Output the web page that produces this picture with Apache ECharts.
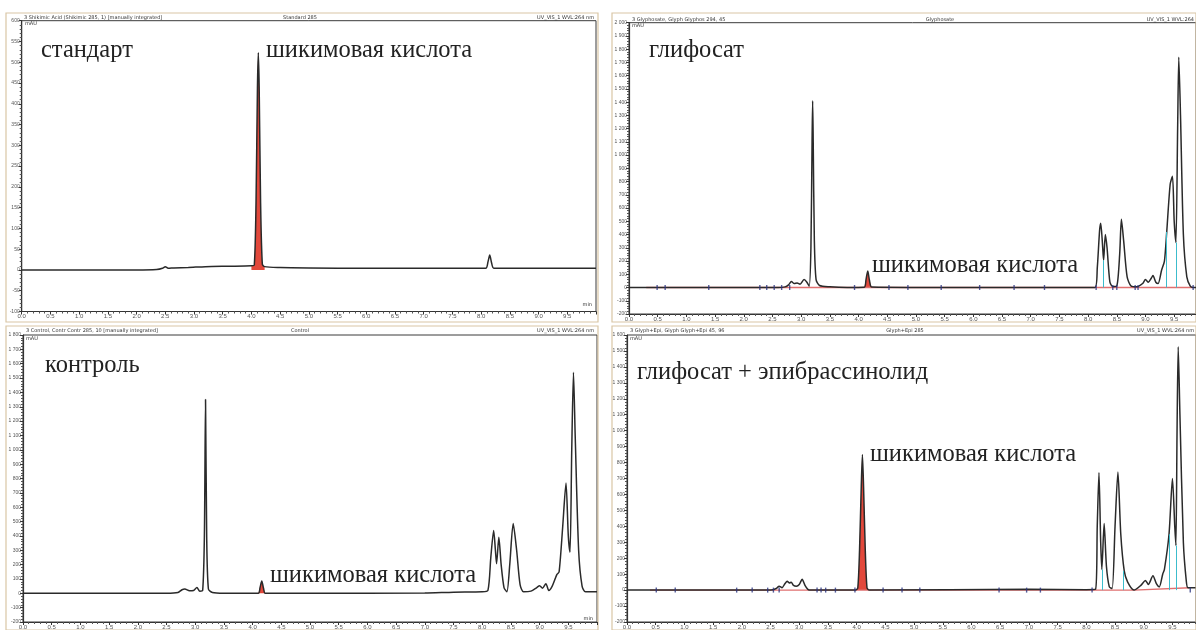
<!DOCTYPE html>
<html><head><meta charset="utf-8">
<script src="https://cdn.jsdelivr.net/npm/echarts/dist/echarts.min.js"></script>
<style>html,body{margin:0;padding:0;background:#fff}#c{width:1196px;height:630px}</style>
</head><body><div id="c"></div>
<script>
// ---------- DATA (retention time, min ; signal, mAU) ----------
const panelTitles = ['стандарт', 'глифосат', 'контроль', 'глифосат + эпибрассинолид'];
const shikLabel = 'шикимовая кислота';

const stdTrace = [[0,0],[1.0,0],[2.0,0],[2.35,1],[2.45,4],[2.5,8],[2.55,4],[2.65,5],[2.9,6],[3.2,8],[3.6,9],[4.0,10],[4.05,12],[4.08,160],[4.105,440],[4.12,523],[4.135,440],[4.16,160],[4.19,14],[4.23,8],[4.5,6],[5.0,5],[6.0,4],[7.0,4],[8.08,4],[8.12,20],[8.15,36],[8.18,18],[8.22,4],[9.0,4],[10.0,4]];

const glyTrace = [[0,0],[2.6,0],[2.72,5],[2.78,20],[2.83,45],[2.88,30],[2.93,35],[2.98,25],[3.05,60],[3.1,40],[3.14,10],[3.17,300],[3.19,1100],[3.2,1410],[3.21,1100],[3.23,350],[3.26,60],[3.32,15],[3.5,5],[3.8,0],[4.1,2],[4.13,60],[4.16,125],[4.19,55],[4.23,3],[5,0],[8.12,0],[8.16,150],[8.2,430],[8.22,485],[8.25,330],[8.27,205],[8.3,400],[8.33,300],[8.38,40],[8.43,8],[8.5,12],[8.55,250],[8.58,515],[8.62,350],[8.68,80],[8.75,10],[8.85,5],[8.95,30],[9.0,60],[9.05,40],[9.1,70],[9.13,90],[9.18,40],[9.22,30],[9.28,130],[9.33,200],[9.37,420],[9.43,780],[9.47,840],[9.5,500],[9.53,340],[9.56,1200],[9.58,1740],[9.61,1300],[9.66,400],[9.72,80],[9.78,10],[9.83,0],[9.88,0]];

const ctrlTrace = [[0,0],[2.5,0],[2.7,5],[2.77,25],[2.82,30],[2.9,18],[2.97,20],[3.03,40],[3.08,15],[3.13,20],[3.16,400],[3.18,1350],[3.2,400],[3.23,30],[3.3,5],[3.5,0],[4.1,0],[4.13,40],[4.16,85],[4.19,35],[4.22,0],[5,0],[7.0,2],[7.5,8],[8.0,10],[8.1,20],[8.15,250],[8.2,438],[8.23,300],[8.25,206],[8.29,390],[8.33,200],[8.38,40],[8.43,10],[8.48,200],[8.54,486],[8.6,300],[8.66,60],[8.72,10],[8.85,15],[8.95,40],[9.0,53],[9.05,35],[9.11,67],[9.16,20],[9.22,50],[9.3,130],[9.34,150],[9.4,450],[9.46,768],[9.5,400],[9.53,287],[9.56,1000],[9.59,1540],[9.62,1100],[9.68,300],[9.74,50],[9.8,10],[10,10]];

const epiTrace = [[0,0],[2.5,0],[2.6,10],[2.65,25],[2.7,15],[2.75,40],[2.79,55],[2.83,45],[2.86,50],[2.9,30],[2.95,25],[3.0,35],[3.05,68],[3.1,30],[3.15,5],[3.2,0],[3.98,0],[4.02,15],[4.05,250],[4.08,650],[4.1,850],[4.12,650],[4.15,250],[4.18,15],[4.22,0],[7.0,5],[8.0,3],[8.16,5],[8.19,400],[8.22,738],[8.25,300],[8.27,130],[8.31,418],[8.35,150],[8.4,20],[8.45,10],[8.5,400],[8.55,740],[8.6,350],[8.66,120],[8.72,50],[8.83,0],[8.95,30],[9.03,60],[9.08,35],[9.16,90],[9.22,40],[9.27,20],[9.33,100],[9.36,130],[9.44,350],[9.5,700],[9.54,400],[9.56,280],[9.58,1000],[9.6,1526],[9.63,1100],[9.69,300],[9.74,60],[9.77,15],[9.9,15]];

// shikimic-acid integration windows (min)
const stdShikWin = [4.0, 4.25];
const glyShikWin = [4.08, 4.25];
const ctrlShikWin = [4.08, 4.25];
const epiShikWin = [3.98, 4.22];

// integration baselines
const glyBaseline = [[0.3,0],[8.1,0],[9.83,0]];
const epiBaseline = [[0.4,0],[8.1,0],[8.83,0],[9.8,15]];

// integration markers (min)
const glyMarks = [0.49,0.63,1.39,2.28,2.4,2.53,2.66,2.8,3.93,4.53,4.86,5.44,6.11,6.71,7.24,8.14,8.43,8.5,8.82,8.87,9.83];
const epiMarks = [0.51,0.84,1.91,2.18,2.45,2.55,2.65,3.31,3.38,3.46,3.63,3.97,4.46,4.79,5.1,6.48,6.96,7.2,8.1,9.81];

// peak drop lines [time, height]
const glyDrops = [[8.26,205],[9.37,420],[9.53,340]];
const epiDrops = [[8.27,130],[8.64,120],[9.44,350],[9.56,280]];

// axis ranges
const yRanges = [[-100,600,50],[-200,2000,100],[-200,1800,100],[-200,1600,100]];
const xMax = [10, 9.88, 10, 9.91];

// ---------- LAYOUT ----------
const grids = [
  {left:21.7, top:20.7, width:574.3, height:290.8},
  {left:629, top:22.7, width:567, height:291.3},
  {left:23, top:335, width:574, height:290.7},
  {left:627, top:335, width:569, height:290}
];
const fmtY = v => { const a = Math.abs(v); let s = a >= 1000 ? Math.floor(a/1000)+' '+String(a%1000).padStart(3,'0') : String(a); return (v<0?'-':'')+s; };

const chart = echarts.init(document.getElementById('c'), null, {renderer:'canvas'});
const option = {
  animation:false,
  backgroundColor:'#fff',
  grid: grids.map(g => Object.assign({show:true, borderColor:'#3a3a3a', borderWidth:1, backgroundColor:'#fff', containLabel:false}, g)),
  xAxis: grids.map((g,i) => ({
    type:'value', gridIndex:i, min:0, max:xMax[i], interval:0.5,
    axisLine:{show:true, onZero:false, lineStyle:{color:'#333', width:1.2}},
    axisTick:{show:true, length:3, lineStyle:{color:'#333'}},
    minorTick:{show:true, splitNumber:5, length:2, lineStyle:{color:'#555'}},
    axisLabel:{fontSize:6, color:'#555', margin:2, showMaxLabel:false, formatter:v=>v.toFixed(1)},
    splitLine:{show:false}
  })),
  yAxis: grids.map((g,i) => ({
    type:'value', gridIndex:i, min:yRanges[i][0], max:yRanges[i][1], interval:yRanges[i][2],
    axisLine:{show:true, onZero:false, lineStyle:{color:'#333', width:1.2}},
    axisTick:{show:true, length:3, lineStyle:{color:'#333'}},
    minorTick:{show:true, splitNumber:5, length:2, lineStyle:{color:'#555'}},
    axisLabel:{fontSize:5, color:'#555', margin:2, formatter:fmtY},
    splitLine:{show:false}
  })),
  series: []
};

const traces = [stdTrace, glyTrace, ctrlTrace, epiTrace];
const wins = [stdShikWin, glyShikWin, ctrlShikWin, epiShikWin];
traces.forEach((tr,i) => {
  option.series.push({
    type:'line', xAxisIndex:i, yAxisIndex:i, silent:true, showSymbol:false,
    data: tr.filter(p => p[0] >= wins[i][0] && p[0] <= wins[i][1]),
    smooth:0.25, lineStyle:{width:0}, areaStyle:{color:'#e0382a', opacity:0.92}, z:2
  });
});
[[1,glyBaseline,glyDrops,glyMarks],[3,epiBaseline,epiDrops,epiMarks]].forEach(([i,bl,drops,marks]) => {
  option.series.push({
    type:'line', xAxisIndex:i, yAxisIndex:i, silent:true, showSymbol:false, data:bl,
    lineStyle:{color:'#e07070', width:1.4}, z:2,
    markLine:{silent:true, symbol:'none', label:{show:false}, lineStyle:{color:'#3cbccc', width:1, type:'solid'},
      data: drops.map(d => [{coord:[d[0],0]},{coord:[d[0],d[1]]}])}
  });
  option.series.push({
    type:'scatter', xAxisIndex:i, yAxisIndex:i, silent:true, symbol:'rect', symbolSize:[1.4,5],
    itemStyle:{color:'#2a3580'}, data: marks.map(t => [t,0]), z:4
  });
});
traces.forEach((tr,i) => {
  option.series.push({
    type:'line', xAxisIndex:i, yAxisIndex:i, silent:true, showSymbol:false, data:tr,
    smooth:0.25, lineStyle:{color:'#2a2a2a', width:1.5}, z:3
  });
});

// text and window frames
const serif = '24.5px "Liberation Serif", "DejaVu Serif", serif';
const tt = (text, x, y) => ({type:'text', x, y, silent:true, style:{text, font:serif, fill:'#222', verticalAlign:'middle'}});
const small = (text, x, y, align) => ({type:'text', x, y, silent:true, style:{text, font:'5px "DejaVu Sans", sans-serif', fill:'#333', align:align||'left', verticalAlign:'middle'}});
const frame = (x,y,w,h) => ({type:'rect', shape:{x,y,width:w,height:h}, silent:true, style:{fill:null, stroke:'#d9c6a5', lineWidth:1.2}});
option.graphic = [
  frame(6,13,592,309), frame(612,13,584,309), frame(6,326,592,304), frame(612,326,584,304),
  small('3 Shikimic Acid (Shikimic 285, 1) [manually integrated]', 24, 17.5), small('Standard 285', 300, 17.5, 'center'), small('UV_VIS_1 WVL:264 nm', 594, 17.5, 'right'),
  small('3 Glyphosate, Glyph Glyphos 294, 45', 632, 19.5), small('Glyphosate', 940, 19.5, 'center'), small('UV_VIS_1 WVL:264', 1194, 19.5, 'right'),
  small('3 Control, Contr Contr 285, 10 [manually integrated]', 26, 331), small('Control', 300, 331, 'center'), small('UV_VIS_1 WVL:264 nm', 594, 331, 'right'),
  small('3 Glyph+Epi, Glyph Glyph+Epi 45, 96', 630, 331), small('Glyph+Epi 285', 905, 331, 'center'), small('UV_VIS_1 WVL:264 nm', 1194, 331, 'right'),
  small('mAU', 25, 24), small('mAU', 632, 26), small('mAU', 26, 338.5), small('mAU', 630, 338.5),
  small('min', 592, 305, 'right'), small('min', 593, 619, 'right'),
  tt(panelTitles[0], 41, 51), tt(shikLabel, 266, 51),
  tt(panelTitles[1], 649, 51), tt(shikLabel, 872, 266),
  tt(panelTitles[2], 45, 366), tt(shikLabel, 270, 576),
  tt(panelTitles[3], 637, 373), tt(shikLabel, 870, 455)
];
chart.setOption(option);
</script></body></html>
